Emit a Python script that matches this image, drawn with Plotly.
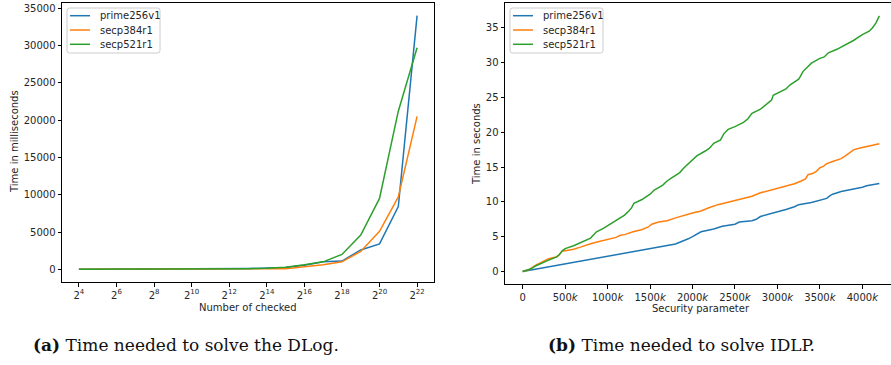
import plotly.graph_objects as go

W, H = 891, 365

# ---------------- data: (a) DLog ----------------
exponents = list(range(4, 23))
checked = [2 ** n for n in exponents]
dlog_prime256v1 = [5, 6, 8, 10, 14, 20, 30, 45, 70, 110, 160, 250, 550, 1000, 1100, 2600, 3400, 8400, 34000]
dlog_secp384r1 = [5, 6, 8, 10, 13, 18, 25, 35, 50, 70, 100, 80, 350, 600, 1000, 2400, 5100, 9700, 20500]
dlog_secp521r1 = [2, 3, 4, 6, 9, 14, 20, 30, 50, 80, 130, 280, 600, 1000, 2000, 4600, 9500, 21200, 29700]
dlog_xtick_exp = [4, 6, 8, 10, 12, 14, 16, 18, 20, 22]
dlog_ytick = [0, 5000, 10000, 15000, 20000, 25000, 30000, 35000]

# ---------------- data: (b) IDLP (x in thousands) ----------------
idlp_x_prime256v1 = [0, 250, 500, 750, 1000, 1250, 1500, 1600, 1700, 1800, 1850, 1900, 1950, 2000, 2050, 2100,
                     2250, 2300, 2350, 2500, 2550, 2700, 2750, 2800, 2900, 3000, 3100, 3200, 3250, 3400, 3500,
                     3580, 3620, 3650, 3750, 3850, 4000, 4050, 4200]
idlp_y_prime256v1 = [0, 0.55, 1.05, 1.6, 2.1, 2.65, 3.2, 3.5, 3.7, 3.95, 4.2, 4.4, 4.7, 5.0, 5.3, 5.7,
                     6.1, 6.3, 6.5, 6.8, 7.1, 7.3, 7.5, 7.9, 8.2, 8.6, 8.9, 9.3, 9.6, 9.9, 10.2,
                     10.5, 10.9, 11.1, 11.5, 11.7, 12.1, 12.3, 12.65]
idlp_x_secp384r1 = [0, 80, 150, 200, 250, 300, 350, 400, 430, 460, 500, 600, 680, 720, 800, 900, 1000, 1100,
                    1150, 1200, 1300, 1400, 1480, 1520, 1600, 1700, 1800, 1900, 2000, 2100, 2150, 2200, 2300,
                    2400, 2500, 2600, 2700, 2800, 2900, 3000, 3100, 3200, 3280, 3330, 3360, 3420, 3460, 3500,
                    3540, 3580, 3650, 3750, 3800, 3850, 3900, 4000, 4100, 4200]
idlp_y_secp384r1 = [0, 0.3, 0.9, 1.2, 1.6, 1.8, 2.0, 2.1, 2.4, 2.9, 3.0, 3.2, 3.5, 3.7, 4.0, 4.3, 4.6, 4.9,
                    5.2, 5.3, 5.7, 6.0, 6.4, 6.8, 7.1, 7.3, 7.7, 8.1, 8.4, 8.7, 9.0, 9.2, 9.6,
                    9.9, 10.1, 10.5, 10.8, 11.3, 11.6, 11.9, 12.3, 12.6, 13.0, 13.3, 13.9, 14.1, 14.4, 14.9,
                    15.1, 15.5, 15.8, 16.2, 16.6, 17.0, 17.5, 17.8, 18.1, 18.35]
idlp_x_secp521r1 = [0, 100, 150, 200, 300, 400, 430, 470, 500, 600, 700, 800, 830, 870, 950, 1000, 1100, 1200,
                    1250, 1280, 1310, 1400, 1500, 1550, 1650, 1700, 1750, 1850, 1900, 2000, 2050, 2150, 2200,
                    2250, 2330, 2370, 2420, 2500, 2600, 2650, 2700, 2800, 2850, 2930, 2950, 3000, 3100, 3150,
                    3250, 3270, 3300, 3400, 3500, 3550, 3600, 3700, 3800, 3900, 3950, 4000, 4080, 4120, 4160, 4200]
idlp_y_secp521r1 = [0, 0.4, 0.8, 1.1, 1.6, 2.1, 2.4, 3.0, 3.3, 3.7, 4.2, 4.8, 5.2, 5.7, 6.2, 6.6, 7.3, 8.1,
                    8.7, 9.1, 9.8, 10.3, 11.1, 11.7, 12.4, 13.0, 13.4, 14.2, 14.9, 16.1, 16.6, 17.3, 17.7,
                    18.4, 18.9, 19.8, 20.4, 20.8, 21.4, 21.9, 22.7, 23.3, 23.8, 24.6, 25.3, 25.6, 26.2, 26.8,
                    27.6, 28.0, 28.7, 29.9, 30.6, 30.8, 31.4, 31.9, 32.5, 33.2, 33.6, 34.0, 34.5, 35.0, 35.7, 36.7]
idlp_xtick = [0, 500, 1000, 1500, 2000, 2500, 3000, 3500, 4000]
idlp_ytick = [0, 5, 10, 15, 20, 25, 30, 35]

series_names = ["prime256v1", "secp384r1", "secp521r1"]
colors = ["#1f77b4", "#ff7f0e", "#2ca02c"]

TXT = "#262626"
FONT = "DejaVu Sans"

fig = go.Figure()

for name, col, ys in zip(series_names, colors, [dlog_prime256v1, dlog_secp384r1, dlog_secp521r1]):
    fig.add_trace(go.Scatter(x=checked, y=ys, mode="lines", name=name, showlegend=False,
                             line=dict(color=col, width=1.5), xaxis="x", yaxis="y"))

for name, col, xs, ys in zip(series_names, colors,
                             [idlp_x_prime256v1, idlp_x_secp384r1, idlp_x_secp521r1],
                             [idlp_y_prime256v1, idlp_y_secp384r1, idlp_y_secp521r1]):
    fig.add_trace(go.Scatter(x=xs, y=ys, mode="lines", name=name, showlegend=False,
                             line=dict(color=col, width=1.5), xaxis="x2", yaxis="y2"))


def px_x(p):
    return p / W


def px_y(p):
    return 1 - p / H


axis_common = dict(showgrid=False, zeroline=False, showline=True, linecolor="black", linewidth=1,
                   ticks="outside", ticklen=3.5, tickwidth=0.8, tickcolor="black",
                   tickfont=dict(family=FONT, size=10, color=TXT))

log2 = 0.30102999566
fig.update_layout(
    width=W, height=H,
    margin=dict(l=0, r=0, t=0, b=0),
    paper_bgcolor="white", plot_bgcolor="white",
    font=dict(family=FONT, size=10, color=TXT),
    showlegend=False,
    xaxis=dict(domain=[px_x(62), px_x(434)], type="log",
               range=[3.1 * log2, 22.9 * log2],
               tickvals=[2 ** e for e in dlog_xtick_exp],
               ticktext=[f"2<sup>{e}</sup>" for e in dlog_xtick_exp],
               mirror=True, anchor="y", **axis_common),
    yaxis=dict(domain=[px_y(282), px_y(3)], range=[-1700, 35700],
               tickvals=dlog_ytick, ticktext=[str(v) for v in dlog_ytick],
               mirror=True, anchor="x", **axis_common),
    xaxis2=dict(domain=[px_x(505), 1.0], range=[-208, 4337],
                tickvals=idlp_xtick,
                ticktext=["0" if v == 0 else f"{v}<i>k</i>" for v in idlp_xtick],
                mirror=True, anchor="y2", **axis_common),
    yaxis2=dict(domain=[px_y(284.3), px_y(3.3)], range=[-1.83, 38.5],
                tickvals=idlp_ytick, ticktext=[str(v) for v in idlp_ytick],
                mirror=False, anchor="x2", **axis_common),
)


# ---- legends (matplotlib-style compact boxes) ----
def rrect_path(x0, y0, x1, y1, r):
    X = lambda v: px_x(v)
    Y = lambda v: px_y(v)
    return (f"M {X(x0 + r)},{Y(y0)} L {X(x1 - r)},{Y(y0)} Q {X(x1)},{Y(y0)} {X(x1)},{Y(y0 + r)} "
            f"L {X(x1)},{Y(y1 - r)} Q {X(x1)},{Y(y1)} {X(x1 - r)},{Y(y1)} "
            f"L {X(x0 + r)},{Y(y1)} Q {X(x0)},{Y(y1)} {X(x0)},{Y(y1 - r)} "
            f"L {X(x0)},{Y(y0 + r)} Q {X(x0)},{Y(y0)} {X(x0 + r)},{Y(y0)} Z")


for bx0, bx1 in [(67, 160), (510, 603)]:
    fig.add_shape(type="path", xref="paper", yref="paper", layer="above",
                  path=rrect_path(bx0, 8, bx1, 53, 2.5),
                  line=dict(color="#cccccc", width=1), fillcolor="rgba(255,255,255,0.8)")
    for i, (name, col) in enumerate(zip(series_names, colors)):
        ry = 15.7 + 14.3 * i
        fig.add_shape(type="line", xref="paper", yref="paper", layer="above",
                      x0=px_x(bx0 + 3), x1=px_x(bx0 + 23), y0=px_y(ry), y1=px_y(ry),
                      line=dict(color=col, width=1.5))
        fig.add_annotation(xref="paper", yref="paper", showarrow=False, xanchor="left", yanchor="middle",
                           x=px_x(bx0 + 30.5), y=px_y(ry), text=name,
                           font=dict(family=FONT, size=10, color=TXT))

annotations = [
    dict(text="Number of checked", x=px_x(248), y=px_y(307)),
    dict(text="Security parameter", x=px_x(701), y=px_y(308)),
    dict(text="Time in milliseconds", x=px_x(15), y=px_y(142), textangle=-90),
    dict(text="Time in seconds", x=px_x(477), y=px_y(144), textangle=-90),
]
for a in annotations:
    fig.add_annotation(xref="paper", yref="paper", showarrow=False, xanchor="center", yanchor="middle",
                       font=dict(family=FONT, size=10, color=TXT), **a)

captions = [
    ("<b>(a)</b> Time needed to solve the DLog.", 186),
    ("<b>(b)</b> Time needed to solve IDLP.", 681),
]
for text, cx in captions:
    fig.add_annotation(xref="paper", yref="paper", showarrow=False, xanchor="center", yanchor="middle",
                       x=px_x(cx), y=px_y(345), text=text,
                       font=dict(family="DejaVu Serif", size=17, color="#111111"))

fig.write_html("out.html", config={"displayModeBar": False},
               post_script="document.body.style.margin='0';document.body.style.overflow='hidden';")
